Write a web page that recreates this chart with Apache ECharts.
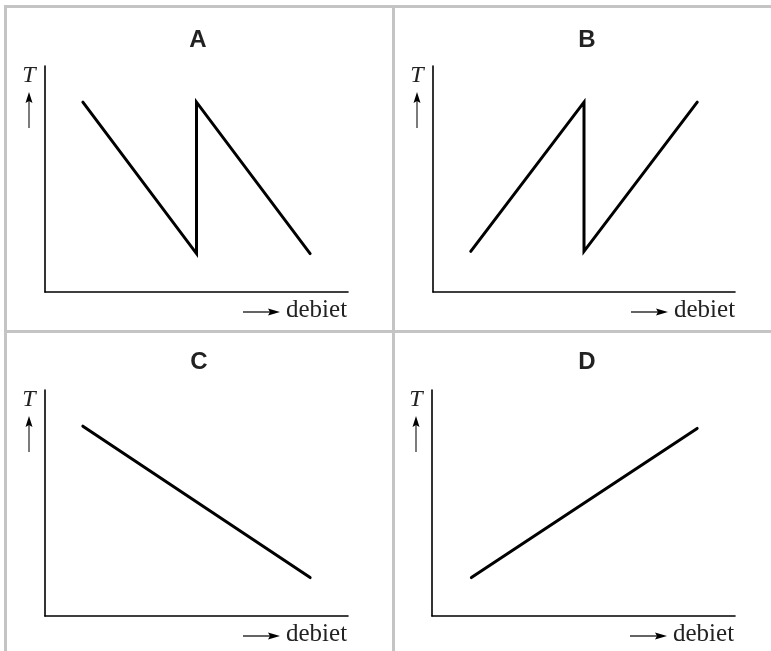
<!DOCTYPE html>
<html>
<head>
<meta charset="utf-8">
<script src="https://cdn.jsdelivr.net/npm/echarts@6/dist/echarts.min.js"></script>
<style>
  html, body { margin: 0; padding: 0; background: #fff; }
  #chart { width: 771px; height: 651px; }
</style>
</head>
<body>
<div id="chart"></div>
<script>
// panel letters
const panelNames = ['A', 'B', 'C', 'D'];
// [debiet, T] points per panel, axis range 0..100
const lineA = [[12.5, 84], [50, 17], [50, 84], [87.5, 17]];
const lineB = [[12.5, 18], [50, 84], [50, 18], [87.5, 84]];
const lineC = [[12.5, 84], [87.5, 17]];
const lineD = [[13, 17], [87.5, 83]];
const panelLines = [lineA, lineB, lineC, lineD];
const yLabel = 'T';
const xLabel = 'debiet';

const BORDER = '#c4c4c4';
const SERIF = '"Liberation Serif", "DejaVu Serif", serif';
const SANS = '"Liberation Sans", Arial, sans-serif';

// grid boxes [left, top, width, height]
const boxes = [
  [45, 66, 303, 226],
  [433, 66, 302, 226],
  [45, 390, 303, 226],
  [432, 390, 303, 226],
];
const titleCenters = [[198, 40], [587, 40], [199, 362], [587, 362]];

const chart = echarts.init(document.getElementById('chart'));

const grids = [];
const xAxes = [];
const yAxes = [];
const series = [];
const graphics = [];

boxes.forEach((b, i) => {
  grids.push({ left: b[0], top: b[1], width: b[2], height: b[3] });
  const axisCommon = {
    type: 'value',
    gridIndex: i,
    min: 0,
    max: 100,
    axisLine: { show: true, lineStyle: { color: '#000', width: 1.6 } },
    axisTick: { show: false },
    axisLabel: { show: false },
    splitLine: { show: false },
  };
  xAxes.push({ ...axisCommon });
  yAxes.push({ ...axisCommon });
  series.push({
    type: 'line',
    xAxisIndex: i,
    yAxisIndex: i,
    data: panelLines[i],
    symbol: 'none',
    lineStyle: { color: '#000', width: 3, cap: 'round', join: 'miter' },
    animation: false,
  });

  // panel letter
  graphics.push({
    type: 'text', x: titleCenters[i][0], y: titleCenters[i][1],
    style: { text: panelNames[i], font: 'bold 24px ' + SANS, fill: '#222',
      textAlign: 'center', textVerticalAlign: 'middle' },
  });

  // T label with up arrow, left of y-axis
  const tx = b[0] - 16;
  const ty = b[1];
  graphics.push(
    { type: 'text', x: tx, y: ty + 10,
      style: { text: yLabel, font: 'italic 24px ' + SERIF, fill: '#222',
        textAlign: 'center', textVerticalAlign: 'middle' } },
    { type: 'line', shape: { x1: tx, y1: ty + 62, x2: tx, y2: ty + 33 },
      style: { stroke: '#444', lineWidth: 1.4 } },
    { type: 'polygon', shape: { points: [[tx, ty + 26], [tx - 3.5, ty + 37], [tx, ty + 35], [tx + 3.5, ty + 37]] },
      style: { fill: '#000' } }
  );

  // right arrow + debiet, below x-axis
  const ax = b[0] + 198;
  const ay = b[1] + b[3] + 20;
  graphics.push(
    { type: 'line', shape: { x1: ax, y1: ay, x2: ax + 28, y2: ay },
      style: { stroke: '#222', lineWidth: 1.4 } },
    { type: 'polygon', shape: { points: [[ax + 37, ay], [ax + 25, ay - 3.5], [ax + 27, ay], [ax + 25, ay + 3.5]] },
      style: { fill: '#000' } },
    { type: 'text', x: ax + 43, y: ay + 11,
      style: { text: xLabel, font: '25px ' + SERIF, fill: '#222',
        textAlign: 'left', textVerticalAlign: 'bottom' } }
  );
});

// gray panel dividers
graphics.push(
  { type: 'line', shape: { x1: 4, y1: 6.5, x2: 771, y2: 6.5 }, style: { stroke: BORDER, lineWidth: 3 } },
  { type: 'line', shape: { x1: 5.5, y1: 5, x2: 5.5, y2: 651 }, style: { stroke: BORDER, lineWidth: 3 } },
  { type: 'line', shape: { x1: 393.5, y1: 5, x2: 393.5, y2: 651 }, style: { stroke: BORDER, lineWidth: 3 } },
  { type: 'line', shape: { x1: 4, y1: 331.5, x2: 771, y2: 331.5 }, style: { stroke: BORDER, lineWidth: 3 } }
);

chart.setOption({
  backgroundColor: '#fff',
  animation: false,
  grid: grids,
  xAxis: xAxes,
  yAxis: yAxes,
  series: series,
  graphic: graphics,
});
</script>
</body>
</html>
